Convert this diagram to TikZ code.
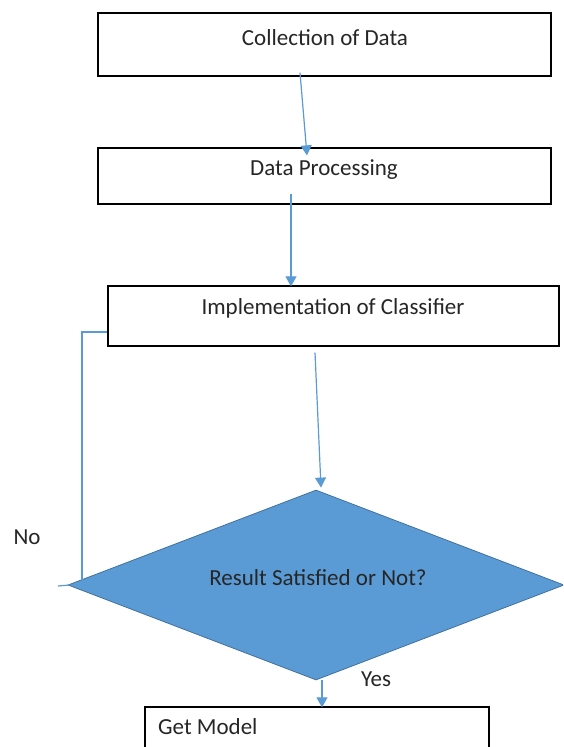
\documentclass[tikz,border=0pt]{standalone}
\usepackage{fontspec}
\setmainfont{Carlito}
\usetikzlibrary{arrows.meta,shapes.geometric}
\definecolor{conn}{HTML}{5B9BD5}
\definecolor{dfill}{HTML}{5B9BD5}
\definecolor{dborder}{HTML}{41719C}
\begin{document}
\begin{tikzpicture}[x=1pt,y=-1pt,
  box/.style={draw=black,line width=1.3pt,rectangle,inner sep=0pt},
  lbl/.style={font=\fontsize{23}{27}\selectfont,inner sep=0pt,text=black!85},
  conn/.style={draw=conn,line width=1.2pt},
  arr/.style={conn,-{Triangle[width=11pt,length=10pt]}}]
\clip (0,0) rectangle (563,747);
\fill[white] (0,0) rectangle (563,747);
% boxes
\node[box,minimum width=453pt,minimum height=63pt] (b1) at (324.5,44.5) {};
\node[box,minimum width=453pt,minimum height=56pt] (b2) at (324.5,176) {};
\node[box,minimum width=451pt,minimum height=60pt] (b3) at (333.5,316) {};
\node[box,minimum width=344pt,minimum height=80pt] (b4) at (317,747) {};
\node[diamond,draw=dborder,fill=dfill,line width=0.8pt,minimum width=496pt,minimum height=190pt,inner sep=0pt] (d) at (316,585) {};
% texts
\node[lbl] (t1) at (325,38) {Collection of Data};
\node[lbl] (t2) at (324,170) {Data Processing};
\node[lbl] (t3) at (333,308) {Implementation of Classifier};
\node[lbl] (t4) at (318,578) {Result Satisfied or Not?};
\node[lbl,anchor=west] (t5) at (158,727) {Get Model};
\node[lbl] (no) at (27,537) {No};
\node[lbl] (yes) at (376,679) {Yes};
% connectors
\draw[arr] ([xshift=-24.5pt,yshift=4pt]b1.south) -- ([xshift=-17.5pt,yshift=-8pt]b2.north);
\draw[arr] ([xshift=-33.5pt,yshift=11pt]b2.south) -- ([xshift=-42.5pt,yshift=-1pt]b3.north);
\draw[arr] ([xshift=-18.5pt,yshift=-6pt]b3.south) -- ([xshift=5pt,yshift=2pt]d.north);
\draw[arr] ([xshift=6pt]d.south) -- ([xshift=5pt,yshift=-1pt]b4.north);
\coordinate (nstub) at (58,586);
\coordinate (nbase) at (82,580);
\draw[conn] (nstub) -- ([xshift=2pt]d.west);
\draw[conn] (nbase) |- ([yshift=-16pt]b3.west);
\end{tikzpicture}
\end{document}
